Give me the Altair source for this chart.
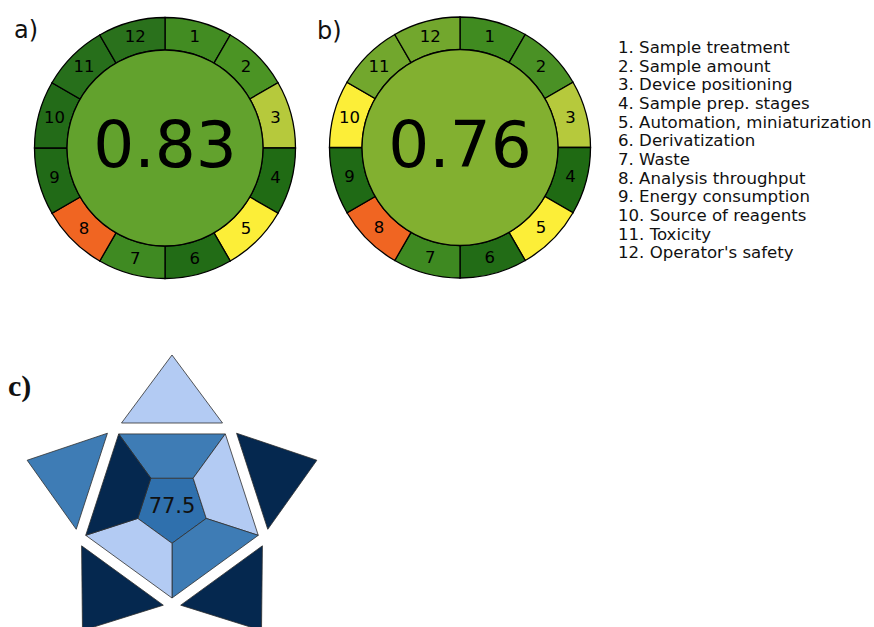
import math
import altair as alt
import pandas as pd

W, H = 874, 627

# ---------------- AGREE pictograms (a, b) ----------------
agree_panels = ["a)", "b)"]
agree_scores = ["0.83", "0.76"]
agree_cx = [165, 460]
agree_cy = [148, 147.5]
agree_center_colors = ["#62a22d", "#82b030"]
agree_segment_colors = [
    ["#428c22", "#4b9424", "#b6c93c", "#206b14", "#fcee38", "#226c16",
     "#3f8a22", "#f06522", "#216a17", "#236b18", "#276f1b", "#2a711c"],
    ["#408b20", "#4a9125", "#b6c93c", "#1f6a13", "#fcee38", "#226c16",
     "#3e8921", "#f06522", "#1f6a15", "#fcee38", "#72a72d", "#72a72d"],
]
criteria = [
    "Sample treatment", "Sample amount", "Device positioning",
    "Sample prep. stages", "Automation, miniaturization", "Derivatization",
    "Waste", "Analysis throughput", "Energy consumption",
    "Source of reagents", "Toxicity", "Operator's safety",
]

# ---------------- BAGI-style star (c) ----------------
bagi_score = "77.5"
bagi_center_color = "#2f70ad"
# pieces listed clockwise starting from the top
bagi_trapezoid_colors = ["#3e7cb5", "#b3cbf3", "#3e7cb5", "#b3cbf3", "#05284f"]
bagi_triangle_colors = ["#b3cbf3", "#05284f", "#05284f", "#05284f", "#3e7cb5"]
star_cx, star_cy = 172, 507.3
R_OUT, R_IN = 90.7, 36.0
TRI_APEX, TRI_BASE, TRI_HALF = 152.3, 84.3, 50.5

TWO_PI = 2 * math.pi

# ---- tables built from the arrays above ----
seg_rows, disk_rows = [], []
for p, (cx, cy) in enumerate(zip(agree_cx, agree_cy)):
    for i, col in enumerate(agree_segment_colors[p]):
        seg_rows.append(dict(cx=cx, cy=cy, t0=i * TWO_PI / 12, t1=(i + 1) * TWO_PI / 12,
                             tm=(i + 0.5) * TWO_PI / 12, color=col, label=str(i + 1)))
    disk_rows.append(dict(cx=cx, cy=cy, t0=0.0, t1=TWO_PI, color=agree_center_colors[p],
                          score=agree_scores[p], ty=cy + 19))
seg_df = pd.DataFrame(seg_rows)
disk_df = pd.DataFrame(disk_rows)

legend_df = pd.DataFrame(dict(
    x=[618] * len(criteria),
    y=[53 + 18.65 * i for i in range(len(criteria))],
    text=[f"{i + 1}. {c}" for i, c in enumerate(criteria)],
))

panel_df = pd.DataFrame(dict(x=[14, 317], y=[38, 39], text=agree_panels))
panel_c_df = pd.DataFrame(dict(x=[8], y=[396], text=["c)"]))


def pt(ang_deg, d):
    a = math.radians(ang_deg)
    return star_cx + d * math.sin(a), star_cy - d * math.cos(a)


poly_rows = []


def add_poly(pid, pts, color):
    pts = list(pts) + [pts[0]]
    for k, (x, y) in enumerate(pts):
        poly_rows.append(dict(poly=pid, ord=k, x=x, y=y, color=color))


# inner pentagon (flat edge on top)
add_poly("center", [pt(36 + 72 * k, R_IN) for k in range(5)], bagi_center_color)
for k in range(5):
    a = 72 * k
    add_poly(f"trap{k}", [pt(a - 36, R_OUT), pt(a + 36, R_OUT), pt(a + 36, R_IN), pt(a - 36, R_IN)],
             bagi_trapezoid_colors[k])
    # outward triangle opposite edge k
    rad = math.radians(a)
    bx, by = star_cx + TRI_BASE * math.sin(rad), star_cy - TRI_BASE * math.cos(rad)
    px, py = math.cos(rad), math.sin(rad)
    add_poly(f"tri{k}", [(bx - TRI_HALF * px, by - TRI_HALF * py), pt(a, TRI_APEX),
                         (bx + TRI_HALF * px, by + TRI_HALF * py)], bagi_triangle_colors[k])
poly_df = pd.DataFrame(poly_rows)
score_df = pd.DataFrame(dict(x=[star_cx], y=[513], text=[bagi_score]))

# ---- shared pixel-like canvas scales ----
xs = alt.Scale(domain=[0, W], nice=False, zero=False)
ys = alt.Scale(domain=[0, H], nice=False, zero=False, reverse=True)


def X(f):
    return alt.X(f"{f}:Q", scale=xs, axis=None)


def Y(f):
    return alt.Y(f"{f}:Q", scale=ys, axis=None)


segments = alt.Chart(seg_df).mark_arc(radius=130.5, radius2=98, stroke="black", strokeWidth=1.3).encode(
    x=X("cx"), y=Y("cy"),
    theta=alt.Theta("t0:Q", scale=None, stack=False), theta2="t1:Q",
    color=alt.Color("color:N", scale=None),
)
seg_labels = alt.Chart(seg_df).mark_text(fontSize=16.5, font="DejaVu Sans", align="center",
                                         baseline="middle", color="black").encode(
    x=X("cx"), y=Y("cy"),
    theta=alt.Theta("tm:Q", scale=None, stack=False),
    radius=alt.value(114.5),
    text="label:N",
)
disks = alt.Chart(disk_df).mark_arc(radius=98, stroke="black", strokeWidth=1.3).encode(
    x=X("cx"), y=Y("cy"),
    theta=alt.Theta("t0:Q", scale=None, stack=False), theta2="t1:Q",
    color=alt.Color("color:N", scale=None),
)
scores = alt.Chart(disk_df).mark_text(fontSize=64.5, font="DejaVu Sans", align="center",
                                      baseline="alphabetic", color="black").encode(
    x=X("cx"), y=Y("ty"), text="score:N",
)
legend = alt.Chart(legend_df).mark_text(fontSize=16.6, font="DejaVu Sans", align="left",
                                        baseline="alphabetic", color="#111111").encode(
    x=X("x"), y=Y("y"), text="text:N",
)
panels = alt.Chart(panel_df).mark_text(fontSize=24, font="DejaVu Sans", align="left",
                                       baseline="alphabetic", color="#111111").encode(
    x=X("x"), y=Y("y"), text="text:N",
)
panel_c = alt.Chart(panel_c_df).mark_text(fontSize=30, font="Liberation Serif", fontWeight="bold",
                                          align="left", baseline="alphabetic", color="#111111").encode(
    x=X("x"), y=Y("y"), text="text:N",
)
star = alt.Chart(poly_df).mark_line(filled=True, stroke="#2e2e2e", strokeWidth=0.8,
                                    strokeJoin="miter", clip=True).encode(
    x=X("x"), y=Y("y"), detail="poly:N", order="ord:Q",
    color=alt.Color("color:N", scale=None),
)
star_score = alt.Chart(score_df).mark_text(fontSize=21, font="DejaVu Sans", align="center",
                                           baseline="alphabetic", color="#111111").encode(
    x=X("x"), y=Y("y"), text="text:N",
)

chart = alt.layer(
    segments, disks, seg_labels, scores, legend, panels, panel_c, star, star_score
).properties(
    width=W, height=H, autosize=alt.AutoSizeParams(type="none"), padding=0,
    background="white",
).configure_view(stroke=None)

chart.save("out.html", embed_options={"renderer": "svg", "actions": False})
